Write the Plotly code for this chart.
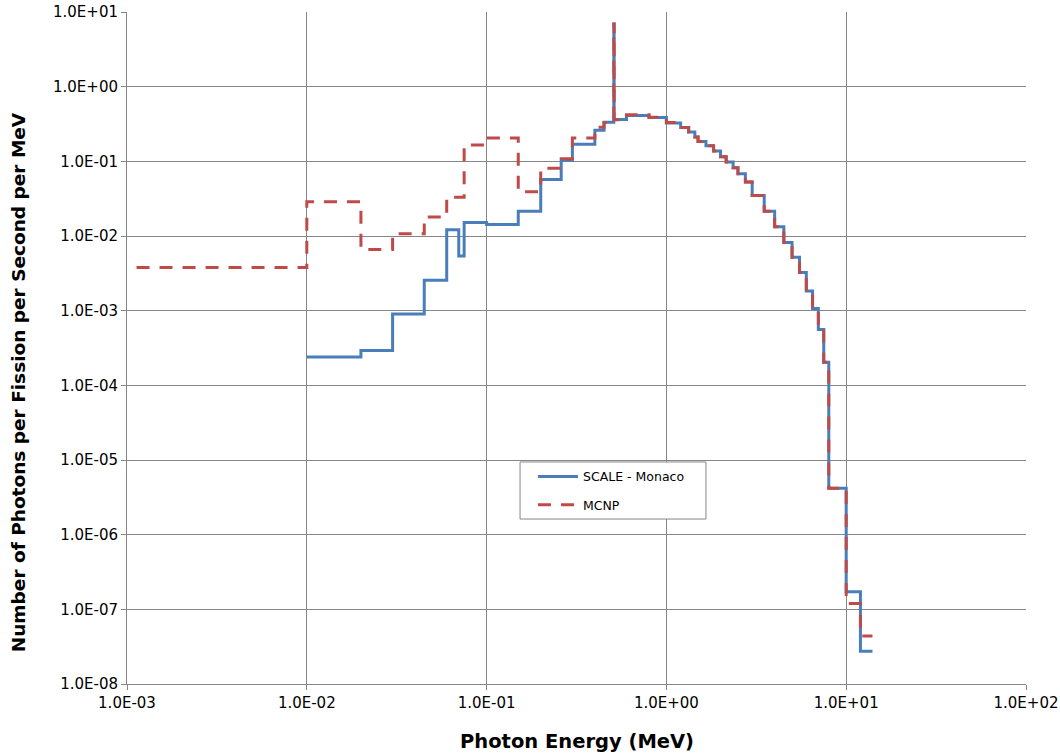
import plotly.graph_objects as go

# ---------------- data ----------------
scale_edges = [0.01, 0.02, 0.03, 0.045, 0.06, 0.07, 0.075, 0.1, 0.15, 0.2,
               0.26, 0.3, 0.4, 0.45, 0.51, 0.512, 0.6, 0.8, 1.0, 1.2,
               1.33, 1.44, 1.5, 1.66, 1.83, 2.0, 2.15, 2.35, 2.5, 2.75,
               3.0, 3.5, 4.0, 4.5, 5.0, 5.5, 6.0, 6.5, 7.0, 7.5,
               8.0, 10.0, 12.0, 14.0]
scale_values = [2.4e-4, 2.93e-4, 9.0e-4, 2.56e-3, 1.21e-2, 5.4e-3, 1.52e-2, 1.43e-2, 2.15e-2, 0.057,
                0.103, 0.17, 0.26, 0.335, 6.9, 0.362, 0.41, 0.385, 0.326, 0.283,
                0.247, 0.211, 0.185, 0.162, 0.137, 0.115, 0.098, 0.082, 0.068, 0.053,
                0.035, 0.0214, 0.0133, 0.0082, 0.0052, 0.00325, 0.00183, 1.07e-3, 5.6e-4, 2.04e-4,
                4.2e-6, 1.72e-7, 2.75e-8]

mcnp_edges = [0.00113, 0.01, 0.02, 0.03, 0.045, 0.06, 0.075, 0.1, 0.15, 0.2,
              0.26, 0.3, 0.4, 0.45, 0.51, 0.512, 0.6, 0.8, 1.0, 1.2,
              1.33, 1.44, 1.5, 1.66, 1.83, 2.0, 2.15, 2.35, 2.5, 2.75,
              3.0, 3.5, 4.0, 4.5, 5.0, 5.5, 6.0, 6.5, 7.0, 7.5,
              8.0, 10.0, 12.0, 14.0]
mcnp_values = [3.8e-3, 2.87e-2, 6.6e-3, 1.07e-2, 1.8e-2, 3.3e-2, 0.165, 0.205, 0.039, 0.081,
               0.108, 0.205, 0.285, 0.33, 6.9, 0.36, 0.42, 0.39, 0.33, 0.283,
               0.247, 0.211, 0.185, 0.162, 0.137, 0.115, 0.098, 0.082, 0.068, 0.053,
               0.035, 0.0214, 0.0133, 0.0082, 0.0052, 0.00325, 0.00183, 1.07e-3, 5.6e-4, 2.04e-4,
               4.2e-6, 1.2e-7, 4.4e-8]

x_tickvals = [1e-3, 1e-2, 1e-1, 1e0, 1e1, 1e2]
x_ticktext = ["1.0E-03", "1.0E-02", "1.0E-01", "1.0E+00", "1.0E+01", "1.0E+02"]
y_tickvals = [1e-8, 1e-7, 1e-6, 1e-5, 1e-4, 1e-3, 1e-2, 1e-1, 1e0, 1e1]
y_ticktext = ["1.0E-08", "1.0E-07", "1.0E-06", "1.0E-05", "1.0E-04",
              "1.0E-03", "1.0E-02", "1.0E-01", "1.0E+00", "1.0E+01"]

x_title = "Photon Energy (MeV)"
y_title = "Number of Photons per Fission per Second per MeV"

FONT = "DejaVu Sans"
GRID = "#868686"

fig = go.Figure()
fig.add_trace(go.Scatter(
    x=scale_edges, y=scale_values + [scale_values[-1]],
    mode="lines", line_shape="hv", name="SCALE - Monaco",
    line=dict(color="#4A7EBB", width=3), legendgroup="a"))
fig.add_trace(go.Scatter(
    x=mcnp_edges, y=mcnp_values + [mcnp_values[-1]],
    mode="lines", line_shape="hv", name="MCNP",
    line=dict(color="#BE4B48", width=3, dash="13px,10px"), legendgroup="b"))

fig.update_layout(
    width=1060, height=755,
    margin=dict(l=127, r=34, t=12, b=71),
    paper_bgcolor="white", plot_bgcolor="white",
    font=dict(family=FONT, size=13, color="black"),
    showlegend=True,
    legend=dict(x=0.4516, y=0.3304, xanchor="left", yanchor="top",
                borderwidth=0, bgcolor="rgba(0,0,0,0)",
                font=dict(family=FONT, size=12.5, color="black"),
                tracegroupgap=9, itemwidth=40),
    shapes=[
        dict(type="rect", xref="paper", yref="paper", layer="above",
             x0=0.4372, x1=0.644, y0=0.2455, y1=0.3304,
             line=dict(color=GRID, width=1), fillcolor="white"),
    ],
    annotations=[
        dict(text="<b>%s</b>" % x_title, xref="paper", yref="paper",
             x=0.5, y=-0.086, xanchor="center", yanchor="middle", showarrow=False,
             font=dict(family=FONT, size=19.5, color="black")),
        dict(text="<b>%s</b>" % y_title, xref="paper", yref="paper",
             x=-0.1212, y=0.449, xanchor="center", yanchor="middle", showarrow=False,
             textangle=-90, font=dict(family=FONT, size=18.5, color="black")),
    ],
)
fig.update_xaxes(
    type="log", range=[-3, 2], automargin=False,
    tickvals=x_tickvals, ticktext=x_ticktext,
    showgrid=True, gridcolor=GRID, gridwidth=1,
    showline=True, linecolor=GRID, linewidth=1,
    ticks="outside", ticklen=5, tickcolor=GRID,
    tickfont=dict(family=FONT, size=15, color="black"),
    zeroline=False,
)
fig.update_yaxes(
    type="log", range=[-8, 1], automargin=False,
    tickvals=y_tickvals, ticktext=y_ticktext,
    showgrid=True, gridcolor=GRID, gridwidth=1,
    showline=True, linecolor=GRID, linewidth=1,
    ticks="outside", ticklen=5, tickcolor=GRID,
    tickfont=dict(family=FONT, size=15, color="black"),
    zeroline=False,
)

fig.write_html("out.html", config={"displayModeBar": False},
               post_script="document.body.style.margin='0';")
